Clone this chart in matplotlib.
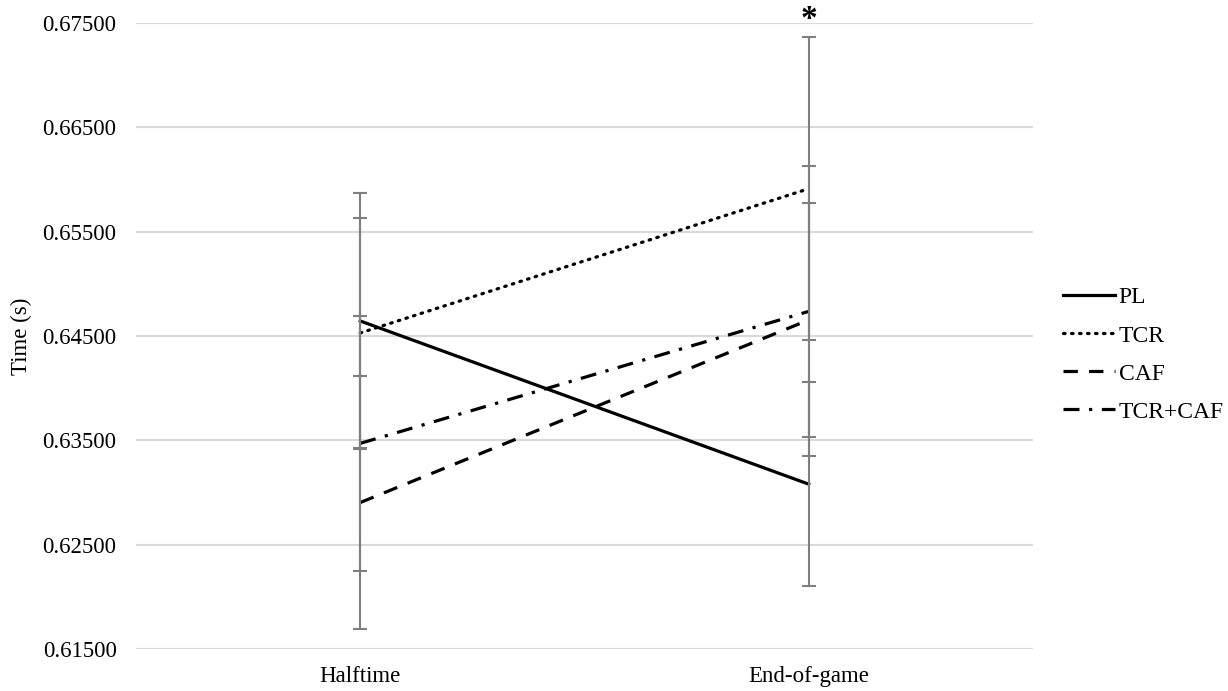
import numpy as np
import matplotlib.pyplot as plt

plt.rcParams['font.family'] = ['Liberation Serif', 'DejaVu Serif']

# reaction time means and SDs
timepoints = ['Halftime', 'End-of-game']
groups = ['PL', 'TCR', 'CAF', 'TCR+CAF']
pl_mean = [0.64644, 0.63080]
tcr_mean = [0.64529, 0.65912]
caf_mean = [0.62904, 0.64654]
tcrcaf_mean = [0.63471, 0.64736]
pl_sd = [0.0123, 0.0098]
tcr_sd = [0.0110, 0.0145]
caf_sd = [0.0121, 0.0112]
tcrcaf_sd = [0.0122, 0.0139]
yticks = [0.615, 0.625, 0.635, 0.645, 0.655, 0.665, 0.675]

means = [pl_mean, tcr_mean, caf_mean, tcrcaf_mean]
sds = [pl_sd, tcr_sd, caf_sd, tcrcaf_sd]
styles = ['-', (0, (0.5, 2.0)), (0, (4.5, 3.5)), (0, (5, 3, 1, 3))]
caps = ['butt', 'round', 'butt', 'butt']

fig = plt.figure(figsize=(12.28, 6.91), dpi=100)
ax = fig.add_axes([136 / 1228, 1 - 649 / 691, (1033 - 136) / 1228, (649 - 23) / 691])

x = np.arange(len(timepoints))
for name, m, s, ls, cs in zip(groups, means, sds, styles, caps):
    ax.plot(x, m, color='black', lw=2.3, linestyle=ls, dash_capstyle=cs,
            label=name, zorder=3)
    ax.errorbar(x, m, yerr=s, fmt='none', ecolor='#7f7f7f', elinewidth=1.5,
                capsize=5, capthick=1.5, zorder=4)

ax.text(x[1], 0.6753, '*', ha='center', va='center', fontsize=24,
        fontweight='bold')

ax.set_xlim(-0.5, 1.5)
ax.set_ylim(0.615, 0.675)
ax.set_yticks(yticks)
ax.set_yticklabels([f'{v:.5f}' for v in yticks])
ax.set_xticks(x)
ax.set_xticklabels(timepoints)
ax.tick_params(axis='both', length=0, labelsize=16.5)
ax.tick_params(axis='y', pad=14)
ax.tick_params(axis='x', pad=12)
ax.set_ylabel('Time (s)', fontsize=16.5)
ax.yaxis.set_label_coords(-104 / 897, 0.5)
ax.grid(axis='y', color='#d9d9d9', lw=1.5)
ax.set_axisbelow(True)
for sp in ax.spines.values():
    sp.set_visible(False)

ax.legend(loc='center left', bbox_to_anchor=(1.01, 0.47), frameon=False,
          fontsize=17, handlelength=2.2, handletextpad=0.15,
          labelspacing=0.7)

fig.savefig('out.png', dpi=100)
